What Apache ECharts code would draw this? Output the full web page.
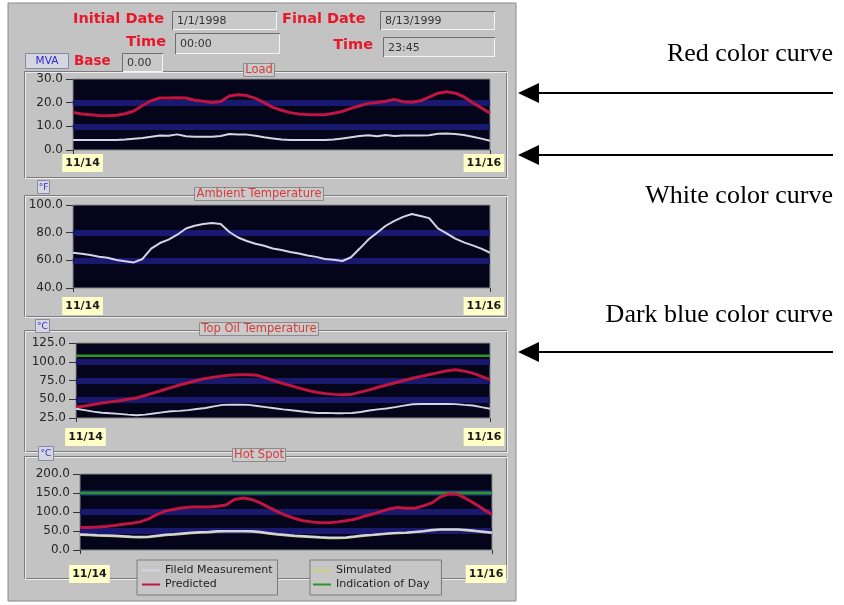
<!DOCTYPE html>
<html>
<head>
<meta charset="utf-8">
<script src="https://cdn.jsdelivr.net/npm/echarts@6/dist/echarts.min.js"></script>
<style>html,body{margin:0;padding:0;background:#fff}#c{width:844px;height:605px}</style>
</head>
<body>
<div id="c"></div>
<script>
// ---------------- data ----------------
const hours = [0,1,2,3,4,5,6,7,8,9,10,11,12,13,14,15,16,17,18,19,20,21,22,23,24,25,26,27,28,29,30,31,32,33,34,35,36,37,38,39,40,41,42,43,44,45,46,47,48];
const xLabelTexts = ['11/14', '11/16'];
const xLabelHours = [1.1, 47.3];

const loadTicks = [0, 10, 20, 30];
const ambientTicks = [40, 60, 80, 100];
const topOilTicks = [25, 50, 75, 100, 125];
const hotSpotTicks = [0, 50, 100, 150, 200];

const loadPredicted = [15.9,15.2,14.9,14.6,14.5,14.7,15.3,16.5,18.8,20.8,22.0,22.0,22.1,22.0,21.0,20.6,20.1,20.5,22.8,23.3,23.0,21.8,20.0,18.0,16.8,15.8,15.2,15.0,14.9,14.9,15.5,16.3,17.6,18.7,19.7,20.1,20.6,21.4,20.4,20.2,20.8,22.3,24.0,24.6,24.0,22.5,20.0,17.8,15.5];
const loadMeasured = [4.2,4.2,4.2,4.2,4.2,4.2,4.4,4.8,5.1,5.6,6.1,6.0,6.6,5.8,5.6,5.6,5.6,5.9,6.8,6.6,6.5,6.0,5.4,4.9,4.4,4.2,4.2,4.2,4.2,4.2,4.4,4.9,5.4,5.9,6.2,5.8,6.3,5.9,6.1,6.1,6.1,6.2,6.9,7.0,6.8,6.3,5.6,4.8,3.9];

const ambientMeasured = [65.5,64.8,63.8,62.6,61.8,60.2,59.3,58.5,61.0,68.5,72.5,75.0,78.5,83.0,85.0,86.3,87.0,86.3,80.5,76.5,74.0,72.0,70.5,68.5,67.5,66.0,65.0,63.5,62.5,61.0,60.5,59.5,62.2,68.5,75.0,80.0,85.0,88.5,91.4,93.5,92.0,90.5,83.1,79.5,75.7,73.0,70.8,68.5,65.5];

const topOilPredicted = [39.2,41,43,45,46.5,48,50,51.7,55,58.5,62,65.5,69,72,75,77.8,79.5,81,82.3,82.8,82.8,81.9,78.5,74.5,71,67.8,64.5,61.5,59,57.5,56.5,56.1,56.8,59.5,62.5,66,69,72,75,78,80.5,83,85.5,88,89.4,87.5,84.8,80.5,76.1];
const topOilMeasured = [37.4,35.5,33.5,32,31.2,30.5,29.5,28.6,29.5,31,32.5,33.9,34.5,35.5,37,38.3,40.5,42.5,42.8,42.8,42.5,41,39.5,38,36.5,35.2,34,32.8,31.8,31.7,31.5,31.5,31.7,33,35,36.5,37.8,39.5,41.5,43.2,43.7,43.7,43.7,43.7,43.5,42.5,41.7,39.5,37.4];
const topOilDayLevel = 108;

const hotSpotPredicted = [58.9,59.5,60.5,62,64.5,67.5,70.5,74,82,94,103,107,111,113,113,113,115,118.5,133,137,133,124,112,101,91,83,77,74,72,72,74,77,81,88,94,101,108,112,110,110,116,124,140,148,146.5,135,122,107,93.5];
const hotSpotMeasured = [41.6,40.5,39.5,39,38,37,35.5,34.6,35.5,38,40.5,42,44,46,47.6,48,50,50.2,50.2,50.2,50.2,48,45,42,40,38,37,35.5,34,33,33,33.5,36,39,40,42,44,45.5,46,48,50,53,54.5,54.5,54.5,53,51,48.5,46];
const hotSpotSimulated = [39.5,38.5,37.5,37,36,35,33.5,33,33.5,36,38.5,40,42,44,45.5,46,48,48.5,48.5,48.5,48,46,43,40,38,36.5,35,33.5,32,31,31,31.5,34,37,38.5,40.5,42.5,44,44.5,46.5,48.5,51.5,53,53,53,51.5,49.5,47,44.5];
const hotSpotDayLevel = 150;

const chartTitles = ['Load', 'Ambient Temperature', 'Top Oil Temperature', 'Hot Spot'];
const unitTexts = ['MVA', '°F', '°C', '°C'];
const legendGroups = [['Fileld Measurement', 'Predicted'], ['Simulated', 'Indication of Day']];
const headerValues = { initialDate: '1/1/1998', finalDate: '8/13/1999', initialTime: '00:00', finalTime: '23:45', base: '0.00' };
const annotations = ['Red color curve', 'White color curve', 'Dark blue color curve'];

// ---------------- styling ----------------
const COL = { measured: '#d4d4e4', predicted: '#bf1540', simulated: '#cfcf78', day: '#2a962a' };
const FONT = 'DejaVu Sans';
const pairs = vals => hours.map((h, i) => [h, vals[i]]);
const levelPairs = v => [[hours[0], v], [hours[hours.length - 1], v]];

const grids = [
  { left: 73, top: 79, width: 417, height: 71 },
  { left: 73, top: 205, width: 417, height: 83 },
  { left: 76, top: 343, width: 414, height: 75 },
  { left: 80, top: 474, width: 412, height: 76 }
].map(g => Object.assign(g, { show: true, backgroundColor: '#04041a', borderColor: '#8a8a8a', borderWidth: 1 }));

const labelMargins = [4, 9, 10, 15];
const xAxes = grids.map((g, i) => ({
  type: 'value', gridIndex: i, min: hours[0], max: hours[hours.length - 1], interval: 48,
  axisLine: { show: false },
  axisTick: { show: true, length: 4, lineStyle: { color: '#333' } },
  splitLine: { show: false },
  axisLabel: {
    customValues: xLabelHours, margin: labelMargins[i],
    formatter: v => v < 24 ? xLabelTexts[0] : xLabelTexts[1],
    backgroundColor: '#ffffc8', padding: [4, 3, 3, 3],
    fontFamily: FONT, fontWeight: 'bold', fontSize: 11, color: '#1a1a1a'
  }
}));

const tickSets = [loadTicks, ambientTicks, topOilTicks, hotSpotTicks];
const yAxes = tickSets.map((t, i) => ({
  type: 'value', gridIndex: i, min: t[0], max: t[t.length - 1], interval: t[1] - t[0],
  axisLine: { show: false },
  axisTick: { show: true, length: 7, lineStyle: { color: '#333' } },
  axisLabel: { formatter: v => v.toFixed(1), fontFamily: FONT, fontSize: 12, color: '#262626', margin: 10 },
  splitLine: { show: true, showMinLine: false, showMaxLine: false,
    lineStyle: { color: '#191970', width: 6 } }
}));

function line(name, gi, data, color, width) {
  return { type: 'line', name, xAxisIndex: gi, yAxisIndex: gi, data, symbol: 'none', showSymbol: false,
    lineStyle: { color, width }, itemStyle: { color }, animation: false, silent: true };
}

const series = [
  line('Predicted', 0, pairs(loadPredicted), COL.predicted, 3),
  line('Fileld Measurement', 0, pairs(loadMeasured), COL.measured, 2),
  line('Fileld Measurement', 1, pairs(ambientMeasured), COL.measured, 2),
  line('Indication of Day', 2, levelPairs(topOilDayLevel), COL.day, 2.5),
  line('Predicted', 2, pairs(topOilPredicted), COL.predicted, 3),
  line('Fileld Measurement', 2, pairs(topOilMeasured), COL.measured, 2),
  line('Indication of Day', 3, levelPairs(hotSpotDayLevel), COL.day, 3),
  line('Predicted', 3, pairs(hotSpotPredicted), COL.predicted, 3),
  line('Simulated', 3, pairs(hotSpotSimulated), COL.simulated, 2),
  line('Fileld Measurement', 3, pairs(hotSpotMeasured), COL.measured, 2)
];

const titleTops = [63, 187, 322, 448];
const titles = chartTitles.map((t, i) => ({
  text: t, left: 257, top: titleTops[i], textAlign: 'center', z: 8,
  backgroundColor: '#cacaca', borderColor: '#8c8c8c', borderWidth: 1, padding: [1, 2, 1, 2],
  textStyle: { color: '#d43c3c', fontSize: 11.5, fontWeight: 'normal', fontFamily: FONT }
}));

const legends = [
  { data: legendGroups[0], left: 137, top: 560, padding: [5, 5, 5, 5] },
  { data: legendGroups[1], left: 310, top: 560, padding: [5, 12, 5, 3] }
].map(l => Object.assign(l, {
  orient: 'vertical', icon: 'rect', itemWidth: 18, itemHeight: 2, itemGap: 3, selectedMode: false,
  backgroundColor: '#c6c6c6', borderColor: '#7a7a7a', borderWidth: 1, z: 6,
  textStyle: { fontFamily: FONT, fontSize: 11, color: '#1e1e1e' }
}));

// ---------------- decorations ----------------
const G = [];
G.push({ type: 'rect', z: -10, shape: { x: 8, y: 3, width: 508, height: 598 }, style: { fill: '#c3c3c3', stroke: '#8a8a8a', lineWidth: 1 } });
[[71, 177], [195, 316], [330, 451], [456, 578]].forEach(([y0, y1]) => {
  G.push({ type: 'rect', z: -9, shape: { x: 24.5, y: y0 + 0.5, width: 482, height: y1 - y0 }, style: { fill: null, stroke: '#7c7c7c', lineWidth: 1 } });
  G.push({ type: 'rect', z: -9, shape: { x: 25.5, y: y0 + 1.5, width: 482, height: y1 - y0 }, style: { fill: null, stroke: '#ececec', lineWidth: 1 } });
});
function redLabel(text, x, y, align, size) {
  G.push({ type: 'text', z: 10, x, y, style: { text, fill: '#e8182a', font: `bold ${size}px "${FONT}"`, align, verticalAlign: 'middle' } });
}
function inBox(x, y, w, h, text) {
  G.push({ type: 'rect', z: 10, shape: { x, y, width: w, height: h }, style: { fill: '#c9c9c9' } });
  G.push({ type: 'polyline', z: 11, shape: { points: [[x + 0.5, y + h], [x + 0.5, y + 0.5], [x + w, y + 0.5]] }, style: { stroke: '#6e6e6e', lineWidth: 1, fill: null } });
  G.push({ type: 'polyline', z: 11, shape: { points: [[x + 1, y + h - 0.5], [x + w - 0.5, y + h - 0.5], [x + w - 0.5, y + 1]] }, style: { stroke: '#f4f4f4', lineWidth: 1, fill: null } });
  G.push({ type: 'text', z: 12, x: x + 5, y: y + h / 2 + 1, style: { text, fill: '#333', font: `11px "${FONT}"`, verticalAlign: 'middle' } });
}
redLabel('Initial Date', 73, 19, 'left', 14.5);
redLabel('Final Date', 282, 19, 'left', 14.5);
redLabel('Time', 166, 42, 'right', 14.5);
redLabel('Time', 373, 45, 'right', 14.5);
redLabel('Base', 74, 61, 'left', 13.5);
inBox(172, 11, 105, 19, headerValues.initialDate);
inBox(380, 11, 115, 19, headerValues.finalDate);
inBox(175, 33, 105, 21, headerValues.initialTime);
inBox(383, 37, 112, 20, headerValues.finalTime);
inBox(122, 53, 41, 19, headerValues.base);

[[25, 53, 43, 15, 10.5], [37, 180, 12, 13, 9], [35, 319, 14, 13, 9], [38, 446, 15, 14, 9]].forEach(([x, y, w, h, fs], i) => {
  G.push({ type: 'rect', z: 10, shape: { x: x + 0.5, y: y + 0.5, width: w, height: h }, style: { fill: '#d6d6de', stroke: '#8888a8', lineWidth: 1 } });
  G.push({ type: 'text', z: 11, x: x + w / 2 + 0.5, y: y + h / 2 + 1, style: { text: unitTexts[i], fill: '#2a2ad8', font: `${fs}px "${FONT}"`, align: 'center', verticalAlign: 'middle' } });
});

// right-hand annotations
[[54], [196], [315]].forEach(([y], i) => {
  G.push({ type: 'text', z: 10, x: 833, y, style: { text: annotations[i], fill: '#000', font: '26px "Liberation Serif"', align: 'right', verticalAlign: 'middle' } });
});
[93, 155, 352].forEach(y => {
  G.push({ type: 'line', z: 10, shape: { x1: 536, y1: y, x2: 833, y2: y }, style: { stroke: '#000', lineWidth: 2 } });
  G.push({ type: 'polygon', z: 10, shape: { points: [[518, y], [539, y - 10], [539, y + 10]] }, style: { fill: '#000' } });
});

const chart = echarts.init(document.getElementById('c'));
chart.setOption({
  backgroundColor: '#ffffff',
  animation: false,
  title: titles,
  legend: legends,
  grid: grids,
  xAxis: xAxes,
  yAxis: yAxes,
  series,
  graphic: { elements: G }
});
</script>
</body>
</html>
